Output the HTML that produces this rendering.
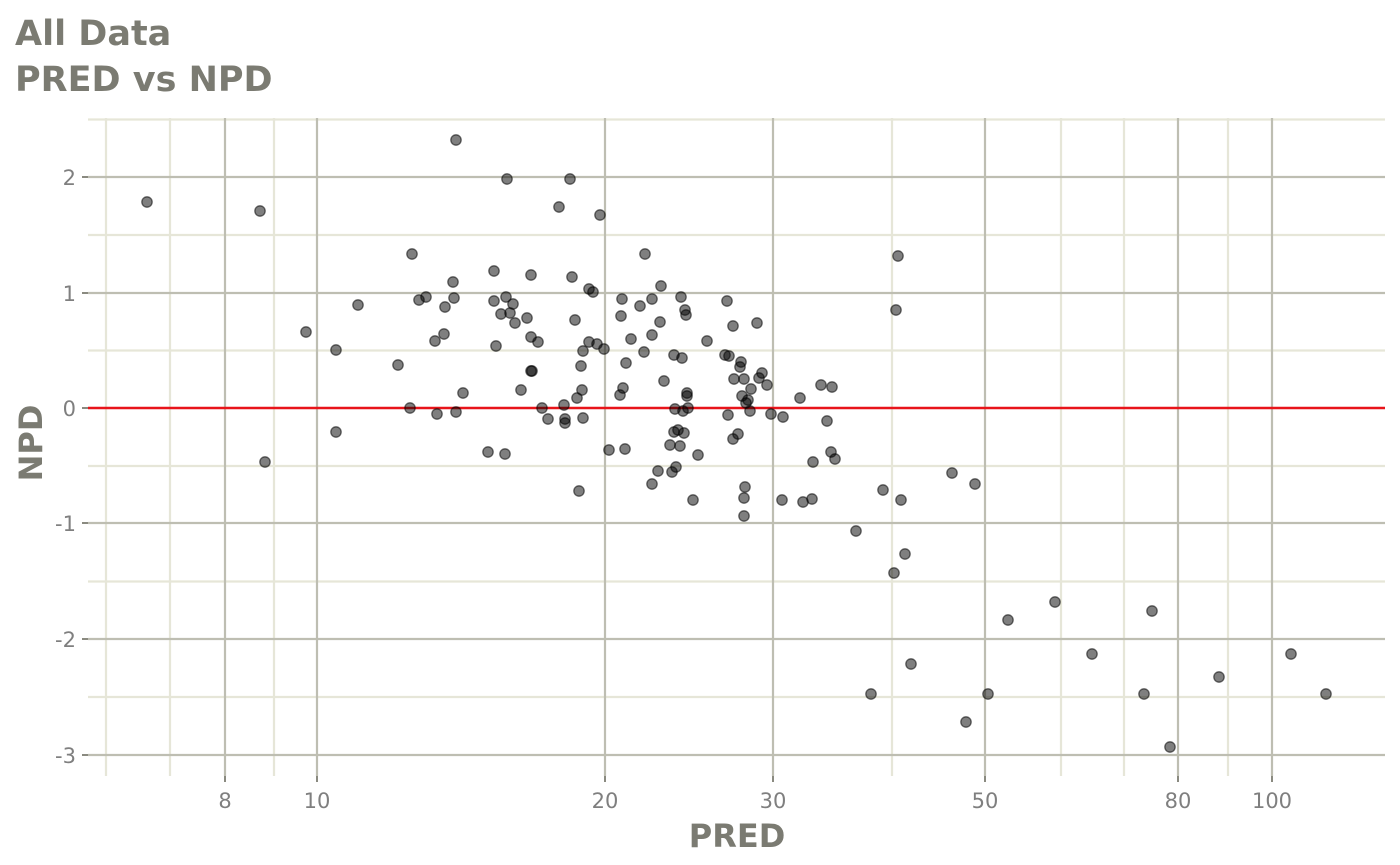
<!DOCTYPE html>
<html><head><meta charset="utf-8"><style>
html,body{margin:0;padding:0;background:#fff;}
svg{display:block;font-family:"DejaVu Sans","Liberation Sans",sans-serif;}
</style></head><body>
<svg width="1400" height="865" viewBox="0 0 1400 865" xmlns="http://www.w3.org/2000/svg">
<rect width="1400" height="865" fill="#fff"/>
<g stroke="#e6e6d8" stroke-width="2.2">
<line x1="88" x2="1385" y1="119.5" y2="119.5"/><line x1="88" x2="1385" y1="235" y2="235"/><line x1="88" x2="1385" y1="350.5" y2="350.5"/><line x1="88" x2="1385" y1="466" y2="466"/><line x1="88" x2="1385" y1="581.5" y2="581.5"/><line x1="88" x2="1385" y1="697" y2="697"/>
<line y1="118" y2="776" x1="106" x2="106"/><line y1="118" y2="776" x1="170" x2="170"/><line y1="118" y2="776" x1="274" x2="274"/><line y1="118" y2="776" x1="892" x2="892"/><line y1="118" y2="776" x1="1061" x2="1061"/><line y1="118" y2="776" x1="1124" x2="1124"/><line y1="118" y2="776" x1="1228" x2="1228"/>
</g>
<g stroke="#bebeb2" stroke-width="2.2">
<line x1="88" x2="1385" y1="177" y2="177"/><line x1="88" x2="1385" y1="293" y2="293"/><line x1="88" x2="1385" y1="523" y2="523"/><line x1="88" x2="1385" y1="639" y2="639"/><line x1="88" x2="1385" y1="755" y2="755"/>
<line y1="118" y2="776" x1="225" x2="225"/><line y1="118" y2="776" x1="317" x2="317"/><line y1="118" y2="776" x1="605" x2="605"/><line y1="118" y2="776" x1="773" x2="773"/><line y1="118" y2="776" x1="985" x2="985"/><line y1="118" y2="776" x1="1178" x2="1178"/><line y1="118" y2="776" x1="1272" x2="1272"/>
</g>
<g stroke="#8a8a80" stroke-width="2">
<line x1="82" x2="88" y1="177" y2="177"/><line x1="82" x2="88" y1="293" y2="293"/><line x1="82" x2="88" y1="408" y2="408"/><line x1="82" x2="88" y1="523" y2="523"/><line x1="82" x2="88" y1="639" y2="639"/><line x1="82" x2="88" y1="755" y2="755"/>
<line y1="776" y2="782" x1="225" x2="225"/><line y1="776" y2="782" x1="317" x2="317"/><line y1="776" y2="782" x1="605" x2="605"/><line y1="776" y2="782" x1="773" x2="773"/><line y1="776" y2="782" x1="985" x2="985"/><line y1="776" y2="782" x1="1178" x2="1178"/><line y1="776" y2="782" x1="1272" x2="1272"/>
</g>
<line x1="88" x2="1385" y1="408" y2="408" stroke="#e8141a" stroke-width="2.5"/>
<g fill="rgba(0,0,0,0.5)" stroke="rgba(0,0,0,0.55)" stroke-width="1.3">
<circle cx="147" cy="202" r="5.2"/><circle cx="260" cy="211" r="5.2"/><circle cx="265" cy="462" r="5.2"/><circle cx="306" cy="332" r="5.2"/><circle cx="336" cy="350" r="5.2"/><circle cx="336" cy="432" r="5.2"/><circle cx="358" cy="305" r="5.2"/><circle cx="398" cy="365" r="5.2"/><circle cx="410" cy="408" r="5.2"/><circle cx="412" cy="254" r="5.2"/>
<circle cx="419" cy="300" r="5.2"/><circle cx="426" cy="297" r="5.2"/><circle cx="435" cy="341" r="5.2"/><circle cx="437" cy="414" r="5.2"/><circle cx="444" cy="334" r="5.2"/><circle cx="445" cy="307" r="5.2"/><circle cx="453" cy="282" r="5.2"/><circle cx="454" cy="298" r="5.2"/><circle cx="456" cy="412" r="5.2"/><circle cx="456" cy="140" r="5.2"/>
<circle cx="463" cy="393" r="5.2"/><circle cx="488" cy="452" r="5.2"/><circle cx="494" cy="271" r="5.2"/><circle cx="494" cy="301" r="5.2"/><circle cx="496" cy="346" r="5.2"/><circle cx="501" cy="314" r="5.2"/><circle cx="505" cy="454" r="5.2"/><circle cx="506" cy="297" r="5.2"/><circle cx="507" cy="179" r="5.2"/><circle cx="510" cy="313" r="5.2"/>
<circle cx="513" cy="304" r="5.2"/><circle cx="515" cy="323" r="5.2"/><circle cx="521" cy="390" r="5.2"/><circle cx="527" cy="318" r="5.2"/><circle cx="531" cy="275" r="5.2"/><circle cx="531" cy="337" r="5.2"/><circle cx="532" cy="371" r="5.2"/><circle cx="531" cy="371" r="5.2"/><circle cx="538" cy="342" r="5.2"/><circle cx="542" cy="408" r="5.2"/>
<circle cx="548" cy="419" r="5.2"/><circle cx="559" cy="207" r="5.2"/><circle cx="564" cy="405" r="5.2"/><circle cx="565" cy="419" r="5.2"/><circle cx="565" cy="423" r="5.2"/><circle cx="570" cy="179" r="5.2"/><circle cx="572" cy="277" r="5.2"/><circle cx="575" cy="320" r="5.2"/><circle cx="577" cy="398" r="5.2"/><circle cx="579" cy="491" r="5.2"/>
<circle cx="581" cy="366" r="5.2"/><circle cx="582" cy="390" r="5.2"/><circle cx="583" cy="418" r="5.2"/><circle cx="583" cy="351" r="5.2"/><circle cx="589" cy="289" r="5.2"/><circle cx="589" cy="342" r="5.2"/><circle cx="593" cy="292" r="5.2"/><circle cx="597" cy="344" r="5.2"/><circle cx="600" cy="215" r="5.2"/><circle cx="604" cy="349" r="5.2"/>
<circle cx="609" cy="450" r="5.2"/><circle cx="620" cy="395" r="5.2"/><circle cx="621" cy="316" r="5.2"/><circle cx="622" cy="299" r="5.2"/><circle cx="623" cy="388" r="5.2"/><circle cx="625" cy="449" r="5.2"/><circle cx="626" cy="363" r="5.2"/><circle cx="631" cy="339" r="5.2"/><circle cx="640" cy="306" r="5.2"/><circle cx="644" cy="352" r="5.2"/>
<circle cx="645" cy="254" r="5.2"/><circle cx="652" cy="484" r="5.2"/><circle cx="652" cy="335" r="5.2"/><circle cx="652" cy="299" r="5.2"/><circle cx="658" cy="471" r="5.2"/><circle cx="660" cy="322" r="5.2"/><circle cx="661" cy="286" r="5.2"/><circle cx="664" cy="381" r="5.2"/><circle cx="670" cy="445" r="5.2"/><circle cx="672" cy="472" r="5.2"/>
<circle cx="674" cy="432" r="5.2"/><circle cx="674" cy="355" r="5.2"/><circle cx="675" cy="409" r="5.2"/><circle cx="676" cy="467" r="5.2"/><circle cx="678" cy="430" r="5.2"/><circle cx="680" cy="446" r="5.2"/><circle cx="681" cy="297" r="5.2"/><circle cx="682" cy="358" r="5.2"/><circle cx="683" cy="411" r="5.2"/><circle cx="684" cy="433" r="5.2"/>
<circle cx="685" cy="310" r="5.2"/><circle cx="686" cy="315" r="5.2"/><circle cx="687" cy="393" r="5.2"/><circle cx="687" cy="396" r="5.2"/><circle cx="688" cy="408" r="5.2"/><circle cx="693" cy="500" r="5.2"/><circle cx="698" cy="455" r="5.2"/><circle cx="707" cy="341" r="5.2"/><circle cx="725" cy="355" r="5.2"/><circle cx="727" cy="301" r="5.2"/>
<circle cx="728" cy="415" r="5.2"/><circle cx="729" cy="356" r="5.2"/><circle cx="733" cy="439" r="5.2"/><circle cx="733" cy="326" r="5.2"/><circle cx="734" cy="379" r="5.2"/><circle cx="738" cy="434" r="5.2"/><circle cx="740" cy="367" r="5.2"/><circle cx="741" cy="362" r="5.2"/><circle cx="742" cy="396" r="5.2"/><circle cx="744" cy="516" r="5.2"/>
<circle cx="744" cy="498" r="5.2"/><circle cx="744" cy="379" r="5.2"/><circle cx="745" cy="487" r="5.2"/><circle cx="746" cy="403" r="5.2"/><circle cx="748" cy="400" r="5.2"/><circle cx="750" cy="411" r="5.2"/><circle cx="751" cy="389" r="5.2"/><circle cx="757" cy="323" r="5.2"/><circle cx="759" cy="378" r="5.2"/><circle cx="762" cy="373" r="5.2"/>
<circle cx="767" cy="385" r="5.2"/><circle cx="771" cy="414" r="5.2"/><circle cx="782" cy="500" r="5.2"/><circle cx="783" cy="417" r="5.2"/><circle cx="800" cy="398" r="5.2"/><circle cx="803" cy="502" r="5.2"/><circle cx="812" cy="499" r="5.2"/><circle cx="813" cy="462" r="5.2"/><circle cx="821" cy="385" r="5.2"/><circle cx="827" cy="421" r="5.2"/>
<circle cx="831" cy="452" r="5.2"/><circle cx="832" cy="387" r="5.2"/><circle cx="835" cy="459" r="5.2"/><circle cx="856" cy="531" r="5.2"/><circle cx="871" cy="694" r="5.2"/><circle cx="883" cy="490" r="5.2"/><circle cx="894" cy="573" r="5.2"/><circle cx="896" cy="310" r="5.2"/><circle cx="898" cy="256" r="5.2"/><circle cx="901" cy="500" r="5.2"/>
<circle cx="905" cy="554" r="5.2"/><circle cx="911" cy="664" r="5.2"/><circle cx="952" cy="473" r="5.2"/><circle cx="966" cy="722" r="5.2"/><circle cx="975" cy="484" r="5.2"/><circle cx="988" cy="694" r="5.2"/><circle cx="1008" cy="620" r="5.2"/><circle cx="1055" cy="602" r="5.2"/><circle cx="1092" cy="654" r="5.2"/><circle cx="1144" cy="694" r="5.2"/>
<circle cx="1152" cy="611" r="5.2"/><circle cx="1170" cy="747" r="5.2"/><circle cx="1219" cy="677" r="5.2"/><circle cx="1291" cy="654" r="5.2"/><circle cx="1326" cy="694" r="5.2"/>
</g>
<g fill="#7f7f7f" font-size="21" text-anchor="end">
<text x="76" y="185">2</text><text x="76" y="301">1</text><text x="76" y="416">0</text><text x="76" y="531">-1</text><text x="76" y="647">-2</text><text x="76" y="763">-3</text>
</g>
<g fill="#7f7f7f" font-size="21" text-anchor="middle">
<text x="225" y="808">8</text><text x="317" y="808">10</text><text x="605" y="808">20</text><text x="773" y="808">30</text><text x="985" y="808">50</text><text x="1178" y="808">80</text><text x="1272" y="808">100</text>
</g>
<g fill="#7b7b72" font-weight="bold">
<text x="15" y="45" font-size="35">All Data</text>
<text x="15" y="91" font-size="35">PRED vs NPD</text>
<text x="737" y="847" font-size="32" text-anchor="middle">PRED</text>
<text transform="translate(42,443) rotate(-90)" font-size="32" text-anchor="middle">NPD</text>
</g>
</svg>
</body></html>
